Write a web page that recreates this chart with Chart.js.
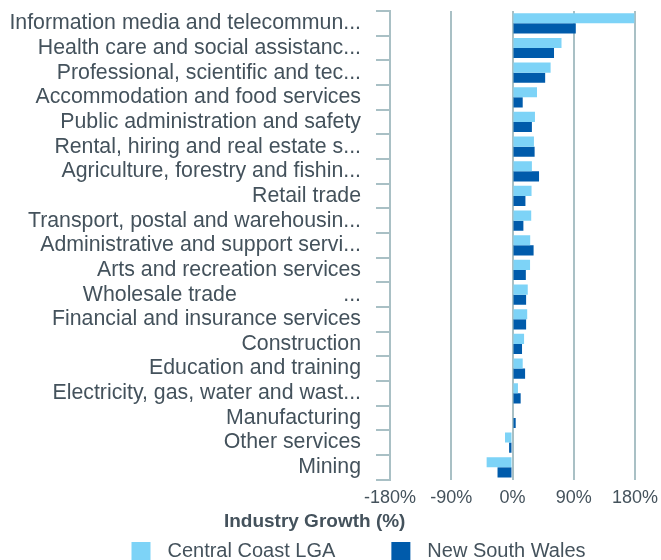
<!DOCTYPE html>
<html lang="en">
<head>
    <meta charset="UTF-8">
    <title>Industry Growth</title>
    <script src="https://cdn.jsdelivr.net/npm/chart.js@4/dist/chart.umd.min.js"></script>
    <style>
        body { margin: 0; background: #fff; }
    </style>
</head>
<body>
    <canvas id="growthChart" width="661" height="560"></canvas>
    <script>
        // industries, top to bottom
        const industries = [
            'Information media and telecommun...',
            'Health care and social assistanc...',
            'Professional, scientific and tec...',
            'Accommodation and food services',
            'Public administration and safety',
            'Rental, hiring and real estate s...',
            'Agriculture, forestry and fishin...',
            'Retail trade',
            'Transport, postal and warehousin...',
            'Administrative and support servi...',
            'Arts and recreation services',
            'Wholesale trade                  ...',
            'Financial and insurance services',
            'Construction',
            'Education and training',
            'Electricity, gas, water and wast...',
            'Manufacturing',
            'Other services',
            'Mining'
        ];

        // growth in %
        const centralCoast = [179, 72, 56, 36, 33, 31.5, 28.5, 28, 27.5, 26, 25.8, 22.4, 21.6, 17, 15, 8, 1.5, -11, -38];
        const nsw = [93, 61, 48, 15, 28.5, 32.5, 39, 19, 16, 31, 19.6, 20, 20, 14, 18.5, 12, 4.7, -5, -22];

        const xTicks = [-180, -90, 0, 90, 180];

        const ccColor = '#7dd3f7';
        const nswColor = '#005bab';
        const textColor = '#44525c';
        const gridColor = '#a9c0c5';
        const family = "'Liberation Sans', Arial, sans-serif";

        // legend swatch: square sits at the right of a wider slot
        function swatch(color) {
            const c = document.createElement('canvas');
            c.width = 82;
            c.height = 19;
            const g = c.getContext('2d');
            g.fillStyle = color;
            g.fillRect(56, 0, 19, 19);
            return c;
        }

        const ctx = document.getElementById('growthChart').getContext('2d');

        new Chart(ctx, {
            type: 'bar',
            data: {
                labels: industries,
                datasets: [
                    { label: 'Central Coast LGA', data: centralCoast, backgroundColor: ccColor },
                    { label: 'New South Wales', data: nsw, backgroundColor: nswColor }
                ]
            },
            options: {
                indexAxis: 'y',
                responsive: false,
                animation: false,
                categoryPercentage: 0.82,
                barPercentage: 1,
                layout: { padding: { top: 11, right: 0, left: 0, bottom: -11 } },
                scales: {
                    x: {
                        min: xTicks[0],
                        max: xTicks[xTicks.length - 1],
                        afterBuildTicks: axis => { axis.ticks = xTicks.map(v => ({ value: v })); },
                        grid: { color: gridColor, lineWidth: 2, drawTicks: false },
                        border: { display: false },
                        ticks: {
                            color: textColor,
                            font: { family: family, size: 18 },
                            padding: 8,
                            maxRotation: 0,
                            callback: v => v + '%'
                        },
                        afterFit: scale => { scale.paddingRight = 26; }
                    },
                    y: {
                        grid: { color: gridColor, lineWidth: 2, drawOnChartArea: false, tickLength: 14 },
                        border: { color: gridColor, width: 2 },
                        ticks: { color: textColor, font: { family: family, size: 21.3 }, padding: 15, autoSkip: false },
                        afterFit: scale => {
                            scale.width = 390;
                            scale.paddingTop = 0;
                            scale.paddingBottom = 0;
                        }
                    }
                },
                plugins: {
                    tooltip: { enabled: false },
                    title: {
                        display: true,
                        text: 'Industry Growth (%)      ',
                        position: 'bottom',
                        weight: 500,
                        color: textColor,
                        font: { family: family, size: 19, weight: 'bold' },
                        padding: { top: -7, bottom: 8 }
                    },
                    legend: {
                        position: 'bottom',
                        labels: {
                            color: textColor,
                            font: { family: family, size: 20 },
                            usePointStyle: true,
                            pointStyleWidth: 82,
                            boxHeight: 19,
                            padding: 0,
                            generateLabels: chart => {
                                const items = Chart.defaults.plugins.legend.labels.generateLabels(chart);
                                items.forEach(item => {
                                    item.pointStyle = swatch(chart.data.datasets[item.datasetIndex].backgroundColor);
                                });
                                return items;
                            }
                        }
                    }
                }
            }
        });
    </script>
</body>
</html>
